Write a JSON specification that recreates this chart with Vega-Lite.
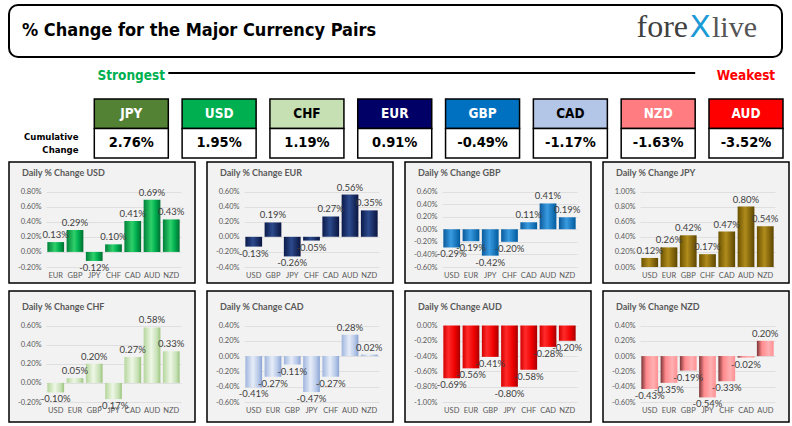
{
  "$schema": "https://vega.github.io/schema/vega-lite/v6.json",
  "background": "white",
  "padding": {"left": 8, "top": 4, "right": 0, "bottom": 0},
  "autosize": {"type": "pad"},
  "spacing": 6,
  "resolve": {"scale": {"x": "independent", "y": "independent", "color": "independent", "fill": "independent", "size": "independent"}},
  "config": {
    "view": {"stroke": null},
    "locale": {"number": {"decimal": ".", "thousands": ",", "grouping": [3], "currency": ["$", ""], "minus": "-"}}
  },
  "datasets": {
    "daily": [
      {"base": "USD", "cur": "EUR", "v": 0.0013}, {"base": "USD", "cur": "GBP", "v": 0.0029}, {"base": "USD", "cur": "JPY", "v": -0.0012}, {"base": "USD", "cur": "CHF", "v": 0.0010}, {"base": "USD", "cur": "CAD", "v": 0.0041}, {"base": "USD", "cur": "AUD", "v": 0.0069}, {"base": "USD", "cur": "NZD", "v": 0.0043},
      {"base": "EUR", "cur": "USD", "v": -0.0013}, {"base": "EUR", "cur": "GBP", "v": 0.0019}, {"base": "EUR", "cur": "JPY", "v": -0.0026}, {"base": "EUR", "cur": "CHF", "v": -0.0005}, {"base": "EUR", "cur": "CAD", "v": 0.0027}, {"base": "EUR", "cur": "AUD", "v": 0.0056}, {"base": "EUR", "cur": "NZD", "v": 0.0035},
      {"base": "GBP", "cur": "USD", "v": -0.0029}, {"base": "GBP", "cur": "EUR", "v": -0.0019}, {"base": "GBP", "cur": "JPY", "v": -0.0042}, {"base": "GBP", "cur": "CHF", "v": -0.0020}, {"base": "GBP", "cur": "CAD", "v": 0.0011}, {"base": "GBP", "cur": "AUD", "v": 0.0041}, {"base": "GBP", "cur": "NZD", "v": 0.0019},
      {"base": "JPY", "cur": "USD", "v": 0.0012}, {"base": "JPY", "cur": "EUR", "v": 0.0026}, {"base": "JPY", "cur": "GBP", "v": 0.0042}, {"base": "JPY", "cur": "CHF", "v": 0.0017}, {"base": "JPY", "cur": "CAD", "v": 0.0047}, {"base": "JPY", "cur": "AUD", "v": 0.0080}, {"base": "JPY", "cur": "NZD", "v": 0.0054},
      {"base": "CHF", "cur": "USD", "v": -0.0010}, {"base": "CHF", "cur": "EUR", "v": 0.0005}, {"base": "CHF", "cur": "GBP", "v": 0.0020}, {"base": "CHF", "cur": "JPY", "v": -0.0017}, {"base": "CHF", "cur": "CAD", "v": 0.0027}, {"base": "CHF", "cur": "AUD", "v": 0.0058}, {"base": "CHF", "cur": "NZD", "v": 0.0033},
      {"base": "CAD", "cur": "USD", "v": -0.0041}, {"base": "CAD", "cur": "EUR", "v": -0.0027}, {"base": "CAD", "cur": "GBP", "v": -0.0011}, {"base": "CAD", "cur": "JPY", "v": -0.0047}, {"base": "CAD", "cur": "CHF", "v": -0.0027}, {"base": "CAD", "cur": "AUD", "v": 0.0028}, {"base": "CAD", "cur": "NZD", "v": 0.0002},
      {"base": "AUD", "cur": "USD", "v": -0.0069}, {"base": "AUD", "cur": "EUR", "v": -0.0056}, {"base": "AUD", "cur": "GBP", "v": -0.0041}, {"base": "AUD", "cur": "JPY", "v": -0.0080}, {"base": "AUD", "cur": "CHF", "v": -0.0058}, {"base": "AUD", "cur": "CAD", "v": -0.0028}, {"base": "AUD", "cur": "NZD", "v": -0.0020},
      {"base": "NZD", "cur": "USD", "v": -0.0043}, {"base": "NZD", "cur": "EUR", "v": -0.0035}, {"base": "NZD", "cur": "GBP", "v": -0.0019}, {"base": "NZD", "cur": "JPY", "v": -0.0054}, {"base": "NZD", "cur": "CHF", "v": -0.0033}, {"base": "NZD", "cur": "CAD", "v": -0.0002}, {"base": "NZD", "cur": "AUD", "v": 0.0020}
    ],
    "cum": [
      {"cur": "JPY", "v": 0.0276}, {"cur": "USD", "v": 0.0195}, {"cur": "CHF", "v": 0.0119}, {"cur": "EUR", "v": 0.0091},
      {"cur": "GBP", "v": -0.0049}, {"cur": "CAD", "v": -0.0117}, {"cur": "NZD", "v": -0.0163}, {"cur": "AUD", "v": -0.0352}
    ],
    "strength": [{"cur": "JPY", "label": "Strongest"}, {"cur": "AUD", "label": "Weakest"}],
    "line": [{"from": "JPY", "to": "NZD"}],
    "logo": [{"part": "fore"}, {"part": "X"}, {"part": "live"}]
  },
  "vconcat": [
    {
      "spacing": 6,
      "resolve": {"scale": {"x": "independent", "y": "independent", "color": "independent", "fill": "independent", "size": "independent"}},
      "vconcat": [
        {
          "width": 773, "height": 52,
          "view": {"stroke": "#000000", "strokeWidth": 2, "cornerRadius": 9, "fill": "#ffffff"},
          "title": {"text": "% Change for the Major Currency Pairs", "anchor": "start", "frame": "group", "offset": -35, "dx": 13, "font": "DejaVu Sans Condensed, sans-serif", "fontSize": 18, "fontWeight": "bold", "color": "#000000"},
          "data": {"name": "logo"},
          "mark": {"type": "text", "baseline": "alphabetic", "dy": 6,
            "align": {"expr": "datum.part === 'fore' ? 'right' : datum.part === 'X' ? 'center' : 'left'"},
            "font": {"expr": "datum.part === 'X' ? 'DejaVu Sans' : 'Liberation Serif'"}},
          "encoding": {
            "x": {"field": "part", "type": "nominal", "sort": null, "scale": {"type": "point", "domain": ["fore", "X", "live"], "range": [679, 703], "padding": 0}, "axis": null},
            "text": {"field": "part"},
            "size": {"field": "part", "type": "nominal", "scale": {"domain": ["fore", "X", "live"], "range": [32, 30, 32]}, "legend": null},
            "color": {"field": "part", "type": "nominal", "scale": {"domain": ["fore", "X", "live"], "range": ["#404040", "#1b9ad6", "#555555"]}, "legend": null}
          }
        },
        {
          "width": 774, "height": 28,
          "view": {"stroke": null},
          "layer": [
            {
              "data": {"name": "line"},
              "mark": {"type": "rule", "color": "#000000", "strokeWidth": 2.2, "yOffset": -5},
              "encoding": {
                "x": {"field": "from", "type": "nominal", "bandPosition": 1, "scale": {"domain": ["JPY", "USD", "CHF", "EUR", "GBP", "CAD", "NZD", "AUD"], "range": [85.3, 774], "paddingInner": 0.1573, "paddingOuter": 0}, "axis": null},
                "x2": {"field": "to", "bandPosition": 1}
              }
            },
            {
              "data": {"name": "strength"},
              "mark": {"type": "text", "font": "DejaVu Sans Condensed, sans-serif", "fontSize": 13.5, "fontWeight": "bold", "baseline": "middle", "dy": -2.5},
              "encoding": {
                "x": {"field": "cur", "type": "nominal", "scale": {"domain": ["JPY", "USD", "CHF", "EUR", "GBP", "CAD", "NZD", "AUD"], "range": [85.3, 774], "paddingInner": 0.1573, "paddingOuter": 0}, "axis": null},
                "text": {"field": "label"},
                "color": {"field": "label", "type": "nominal", "scale": {"domain": ["Strongest", "Weakest"], "range": ["#00b050", "#ff0000"]}, "legend": null}
              }
            }
          ]
        }
      ]
    },
    {
      "spacing": 2,
      "resolve": {"scale": {"x": "independent", "y": "independent", "color": "independent", "fill": "independent"}},
      "vconcat": [
        {
          "width": 774, "height": 59,
          "view": {"stroke": null},
          "data": {"name": "cum"},
          "encoding": {
            "x": {"field": "cur", "type": "nominal", "scale": {"domain": ["JPY", "USD", "CHF", "EUR", "GBP", "CAD", "NZD", "AUD"], "range": [85.3, 774], "paddingInner": 0.1573, "paddingOuter": 0}, "axis": null}
          },
          "layer": [
            {
              "mark": {"type": "rect", "stroke": "#000000", "strokeWidth": 1.5},
              "encoding": {
                "y": {"datum": "h", "type": "nominal", "scale": {"domain": ["h", "v"], "paddingInner": 0, "paddingOuter": 0},
                  "axis": {"title": null, "orient": "left", "offset": -69, "ticks": false, "domain": false, "labelPadding": 0, "labelAlign": "right", "labelBaseline": "middle", "labelOffset": -6, "labelExpr": "datum.value === 'v' ? ['Cumulative', 'Change'] : ''", "labelFont": "DejaVu Sans Condensed, sans-serif", "labelFontSize": 9.5, "labelFontWeight": "bold", "labelColor": "#000000", "labelLineHeight": 13}},
                "fill": {"field": "cur", "type": "nominal", "scale": {"domain": ["JPY", "USD", "CHF", "EUR", "GBP", "CAD", "NZD", "AUD"], "range": ["#548235", "#00b050", "#c6e0b4", "#000066", "#0070c0", "#b4c6e7", "#ff7c80", "#ff0000"]}, "legend": null}
              }
            },
            {
              "mark": {"type": "rect", "stroke": "#000000", "strokeWidth": 1.5, "fill": "#ffffff"},
              "encoding": {"y": {"datum": "v", "type": "nominal"}}
            },
            {
              "mark": {"type": "text", "font": "DejaVu Sans Condensed, sans-serif", "fontSize": 13.5, "fontWeight": "bold", "baseline": "middle"},
              "encoding": {
                "y": {"datum": "h", "type": "nominal"},
                "text": {"field": "cur"},
                "color": {"field": "cur", "type": "nominal", "scale": {"domain": ["JPY", "USD", "CHF", "EUR", "GBP", "CAD", "NZD", "AUD"], "range": ["#ffffff", "#ffffff", "#000000", "#ffffff", "#ffffff", "#000000", "#ffffff", "#ffffff"]}, "legend": null}
              }
            },
            {
              "mark": {"type": "text", "font": "DejaVu Sans Condensed, sans-serif", "fontSize": 14.5, "fontWeight": "bold", "baseline": "middle", "color": "#000000"},
              "encoding": {
                "y": {"datum": "v", "type": "nominal"},
                "text": {"field": "v", "type": "quantitative", "format": ".2%"}
              }
            }
          ]
        },
        {
          "spacing": 6,
          "resolve": {"scale": {"x": "independent", "y": "independent"}},
          "vconcat": [
            {
              "hconcat": [
                {
                  "width": 186, "height": 121,
                  "view": {"stroke": "#000000", "strokeWidth": 1.5, "fill": "#f2f2f2"},
                  "title": {"text": "Daily % Change USD", "anchor": "start", "frame": "group", "offset": -16, "dx": 13, "font": "Lato", "fontSize": 9, "fontWeight": "bold", "color": "#595959"},
                  "data": {"name": "daily"},
                  "transform": [{"filter": "datum.base === 'USD'"}],
                  "encoding": {
                    "x": {"field": "cur", "type": "nominal", "sort": ["USD", "EUR", "GBP", "JPY", "CHF", "CAD", "AUD", "NZD"], "scale": {"range": [37, 172], "paddingInner": 0.13, "paddingOuter": 0.07}, "axis": {"title": null, "offset": -16, "labelPadding": 4, "ticks": false, "domain": false, "labelAngle": 0, "labelFont": "Lato", "labelFontSize": 7.5, "labelColor": "#595959", "labelOverlap": false}},
                    "y": {"field": "v", "type": "quantitative", "scale": {"domain": [-0.002, 0.008], "range": [105, 29.5], "nice": false}, "axis": {"title": null, "offset": -37, "tickCount": 5, "tickSize": -135, "tickColor": "#d9d9d9", "tickWidth": 0.8, "labelPadding": 140, "domain": false, "grid": false, "format": ".2%", "labelFont": "Lato", "labelFontSize": 7.5, "labelColor": "#595959", "labelOverlap": false, "labelFlush": false}}
                  },
                  "layer": [
                    {"mark": {"type": "bar", "color": {"gradient": "linear", "x1": 0, "x2": 1, "y1": 0, "y2": 0, "stops": [{"offset": 0, "color": "#00803a"}, {"offset": 0.45, "color": "#2fd16b"}, {"offset": 0.7, "color": "#00b050"}, {"offset": 1, "color": "#006e30"}]}}},
                    {"mark": {"type": "text", "font": "Lato", "fontSize": 9.5, "color": "#404040", "baseline": {"expr": "datum.v >= 0 ? 'bottom' : 'top'"}, "dy": {"expr": "datum.v >= 0 ? -2 : 2"}}, "encoding": {"text": {"field": "v", "type": "quantitative", "format": ".2%"}}}
                  ]
                },
                {
                  "width": 186, "height": 121,
                  "view": {"stroke": "#000000", "strokeWidth": 1.5, "fill": "#f2f2f2"},
                  "title": {"text": "Daily % Change EUR", "anchor": "start", "frame": "group", "offset": -16, "dx": 13, "font": "Lato", "fontSize": 9, "fontWeight": "bold", "color": "#595959"},
                  "data": {"name": "daily"},
                  "transform": [{"filter": "datum.base === 'EUR'"}],
                  "encoding": {
                    "x": {"field": "cur", "type": "nominal", "sort": ["USD", "EUR", "GBP", "JPY", "CHF", "CAD", "AUD", "NZD"], "scale": {"range": [37, 172], "paddingInner": 0.13, "paddingOuter": 0.07}, "axis": {"title": null, "offset": -16, "labelPadding": 4, "ticks": false, "domain": false, "labelAngle": 0, "labelFont": "Lato", "labelFontSize": 7.5, "labelColor": "#595959", "labelOverlap": false}},
                    "y": {"field": "v", "type": "quantitative", "scale": {"domain": [-0.004, 0.006], "range": [105, 29.5], "nice": false}, "axis": {"title": null, "offset": -37, "tickCount": 5, "tickSize": -135, "tickColor": "#d9d9d9", "tickWidth": 0.8, "labelPadding": 140, "domain": false, "grid": false, "format": ".2%", "labelFont": "Lato", "labelFontSize": 7.5, "labelColor": "#595959", "labelOverlap": false, "labelFlush": false}}
                  },
                  "layer": [
                    {"mark": {"type": "bar", "color": {"gradient": "linear", "x1": 0, "x2": 1, "y1": 0, "y2": 0, "stops": [{"offset": 0, "color": "#0b1a4a"}, {"offset": 0.45, "color": "#2c4a8c"}, {"offset": 1, "color": "#0a1540"}]}}},
                    {"mark": {"type": "text", "font": "Lato", "fontSize": 9.5, "color": "#404040", "baseline": {"expr": "datum.v >= 0 ? 'bottom' : 'top'"}, "dy": {"expr": "datum.v >= 0 ? -2 : 2"}}, "encoding": {"text": {"field": "v", "type": "quantitative", "format": ".2%"}}}
                  ]
                },
                {
                  "width": 186, "height": 121,
                  "view": {"stroke": "#000000", "strokeWidth": 1.5, "fill": "#f2f2f2"},
                  "title": {"text": "Daily % Change GBP", "anchor": "start", "frame": "group", "offset": -16, "dx": 13, "font": "Lato", "fontSize": 9, "fontWeight": "bold", "color": "#595959"},
                  "data": {"name": "daily"},
                  "transform": [{"filter": "datum.base === 'GBP'"}],
                  "encoding": {
                    "x": {"field": "cur", "type": "nominal", "sort": ["USD", "EUR", "GBP", "JPY", "CHF", "CAD", "AUD", "NZD"], "scale": {"range": [37, 172], "paddingInner": 0.13, "paddingOuter": 0.07}, "axis": {"title": null, "offset": -16, "labelPadding": 4, "ticks": false, "domain": false, "labelAngle": 0, "labelFont": "Lato", "labelFontSize": 7.5, "labelColor": "#595959", "labelOverlap": false}},
                    "y": {"field": "v", "type": "quantitative", "scale": {"domain": [-0.006, 0.006], "range": [105, 29.5], "nice": false}, "axis": {"title": null, "offset": -37, "tickCount": 5, "tickSize": -135, "tickColor": "#d9d9d9", "tickWidth": 0.8, "labelPadding": 140, "domain": false, "grid": false, "format": ".2%", "labelFont": "Lato", "labelFontSize": 7.5, "labelColor": "#595959", "labelOverlap": false, "labelFlush": false}}
                  },
                  "layer": [
                    {"mark": {"type": "bar", "color": {"gradient": "linear", "x1": 0, "x2": 1, "y1": 0, "y2": 0, "stops": [{"offset": 0, "color": "#0a5a9c"}, {"offset": 0.45, "color": "#3a9be0"}, {"offset": 1, "color": "#005a9e"}]}}},
                    {"mark": {"type": "text", "font": "Lato", "fontSize": 9.5, "color": "#404040", "baseline": {"expr": "datum.v >= 0 ? 'bottom' : 'top'"}, "dy": {"expr": "datum.v >= 0 ? -2 : 2"}}, "encoding": {"text": {"field": "v", "type": "quantitative", "format": ".2%"}}}
                  ]
                },
                {
                  "width": 186, "height": 121,
                  "view": {"stroke": "#000000", "strokeWidth": 1.5, "fill": "#f2f2f2"},
                  "title": {"text": "Daily % Change JPY", "anchor": "start", "frame": "group", "offset": -16, "dx": 13, "font": "Lato", "fontSize": 9, "fontWeight": "bold", "color": "#595959"},
                  "data": {"name": "daily"},
                  "transform": [{"filter": "datum.base === 'JPY'"}],
                  "encoding": {
                    "x": {"field": "cur", "type": "nominal", "sort": ["USD", "EUR", "GBP", "JPY", "CHF", "CAD", "AUD", "NZD"], "scale": {"range": [37, 172], "paddingInner": 0.13, "paddingOuter": 0.07}, "axis": {"title": null, "offset": -16, "labelPadding": 4, "ticks": false, "domain": false, "labelAngle": 0, "labelFont": "Lato", "labelFontSize": 7.5, "labelColor": "#595959", "labelOverlap": false}},
                    "y": {"field": "v", "type": "quantitative", "scale": {"domain": [0, 0.01], "range": [105, 29.5], "nice": false}, "axis": {"title": null, "offset": -37, "tickCount": 5, "tickSize": -135, "tickColor": "#d9d9d9", "tickWidth": 0.8, "labelPadding": 140, "domain": false, "grid": false, "format": ".2%", "labelFont": "Lato", "labelFontSize": 7.5, "labelColor": "#595959", "labelOverlap": false, "labelFlush": false}}
                  },
                  "layer": [
                    {"mark": {"type": "bar", "color": {"gradient": "linear", "x1": 0, "x2": 1, "y1": 0, "y2": 0, "stops": [{"offset": 0, "color": "#6b5200"}, {"offset": 0.45, "color": "#b08c1c"}, {"offset": 1, "color": "#5c4500"}]}}},
                    {"mark": {"type": "text", "font": "Lato", "fontSize": 9.5, "color": "#404040", "baseline": {"expr": "datum.v >= 0 ? 'bottom' : 'top'"}, "dy": {"expr": "datum.v >= 0 ? -2 : 2"}}, "encoding": {"text": {"field": "v", "type": "quantitative", "format": ".2%"}}}
                  ]
                }
              ],
              "spacing": 10,
              "resolve": {"scale": {"x": "independent", "y": "independent"}}
            },
            {
              "hconcat": [
                {
                  "width": 186, "height": 131,
                  "view": {"stroke": "#000000", "strokeWidth": 1.5, "fill": "#f2f2f2"},
                  "title": {"text": "Daily % Change CHF", "anchor": "start", "frame": "group", "offset": -21, "dx": 13, "font": "Lato", "fontSize": 9, "fontWeight": "bold", "color": "#595959"},
                  "data": {"name": "daily"},
                  "transform": [{"filter": "datum.base === 'CHF'"}],
                  "encoding": {
                    "x": {"field": "cur", "type": "nominal", "sort": ["USD", "EUR", "GBP", "JPY", "CHF", "CAD", "AUD", "NZD"], "scale": {"range": [37, 172], "paddingInner": 0.13, "paddingOuter": 0.07}, "axis": {"title": null, "offset": -20, "labelPadding": 4, "ticks": false, "domain": false, "labelAngle": 0, "labelFont": "Lato", "labelFontSize": 7.5, "labelColor": "#595959", "labelOverlap": false}},
                    "y": {"field": "v", "type": "quantitative", "scale": {"domain": [-0.002, 0.006], "range": [111, 34.5], "nice": false}, "axis": {"title": null, "offset": -37, "tickCount": 5, "tickSize": -135, "tickColor": "#d9d9d9", "tickWidth": 0.8, "labelPadding": 140, "domain": false, "grid": false, "format": ".2%", "labelFont": "Lato", "labelFontSize": 7.5, "labelColor": "#595959", "labelOverlap": false, "labelFlush": false}}
                  },
                  "layer": [
                    {"mark": {"type": "bar", "color": {"gradient": "linear", "x1": 0, "x2": 1, "y1": 0, "y2": 0, "stops": [{"offset": 0, "color": "#b5d69c"}, {"offset": 0.45, "color": "#eef7e6"}, {"offset": 0.8, "color": "#c6e0b4"}, {"offset": 1, "color": "#9cc57f"}]}}},
                    {"mark": {"type": "text", "font": "Lato", "fontSize": 9.5, "color": "#404040", "baseline": {"expr": "datum.v >= 0 ? 'bottom' : 'top'"}, "dy": {"expr": "datum.v >= 0 ? -2 : 2"}}, "encoding": {"text": {"field": "v", "type": "quantitative", "format": ".2%"}}}
                  ]
                },
                {
                  "width": 186, "height": 131,
                  "view": {"stroke": "#000000", "strokeWidth": 1.5, "fill": "#f2f2f2"},
                  "title": {"text": "Daily % Change CAD", "anchor": "start", "frame": "group", "offset": -21, "dx": 13, "font": "Lato", "fontSize": 9, "fontWeight": "bold", "color": "#595959"},
                  "data": {"name": "daily"},
                  "transform": [{"filter": "datum.base === 'CAD'"}],
                  "encoding": {
                    "x": {"field": "cur", "type": "nominal", "sort": ["USD", "EUR", "GBP", "JPY", "CHF", "CAD", "AUD", "NZD"], "scale": {"range": [37, 172], "paddingInner": 0.13, "paddingOuter": 0.07}, "axis": {"title": null, "offset": -20, "labelPadding": 4, "ticks": false, "domain": false, "labelAngle": 0, "labelFont": "Lato", "labelFontSize": 7.5, "labelColor": "#595959", "labelOverlap": false}},
                    "y": {"field": "v", "type": "quantitative", "scale": {"domain": [-0.006, 0.004], "range": [111, 34.5], "nice": false}, "axis": {"title": null, "offset": -37, "tickCount": 5, "tickSize": -135, "tickColor": "#d9d9d9", "tickWidth": 0.8, "labelPadding": 140, "domain": false, "grid": false, "format": ".2%", "labelFont": "Lato", "labelFontSize": 7.5, "labelColor": "#595959", "labelOverlap": false, "labelFlush": false}}
                  },
                  "layer": [
                    {"mark": {"type": "bar", "color": {"gradient": "linear", "x1": 0, "x2": 1, "y1": 0, "y2": 0, "stops": [{"offset": 0, "color": "#9fb5de"}, {"offset": 0.45, "color": "#e6edf8"}, {"offset": 0.8, "color": "#b4c6e7"}, {"offset": 1, "color": "#8aa3d4"}]}}},
                    {"mark": {"type": "text", "font": "Lato", "fontSize": 9.5, "color": "#404040", "baseline": {"expr": "datum.v >= 0 ? 'bottom' : 'top'"}, "dy": {"expr": "datum.v >= 0 ? -2 : 2"}}, "encoding": {"text": {"field": "v", "type": "quantitative", "format": ".2%"}}}
                  ]
                },
                {
                  "width": 186, "height": 131,
                  "view": {"stroke": "#000000", "strokeWidth": 1.5, "fill": "#f2f2f2"},
                  "title": {"text": "Daily % Change AUD", "anchor": "start", "frame": "group", "offset": -21, "dx": 13, "font": "Lato", "fontSize": 9, "fontWeight": "bold", "color": "#595959"},
                  "data": {"name": "daily"},
                  "transform": [{"filter": "datum.base === 'AUD'"}],
                  "encoding": {
                    "x": {"field": "cur", "type": "nominal", "sort": ["USD", "EUR", "GBP", "JPY", "CHF", "CAD", "AUD", "NZD"], "scale": {"range": [37, 172], "paddingInner": 0.13, "paddingOuter": 0.07}, "axis": {"title": null, "offset": -20, "labelPadding": 4, "ticks": false, "domain": false, "labelAngle": 0, "labelFont": "Lato", "labelFontSize": 7.5, "labelColor": "#595959", "labelOverlap": false}},
                    "y": {"field": "v", "type": "quantitative", "scale": {"domain": [-0.01, 0], "range": [111, 34.5], "nice": false}, "axis": {"title": null, "offset": -37, "tickCount": 5, "tickSize": -135, "tickColor": "#d9d9d9", "tickWidth": 0.8, "labelPadding": 140, "domain": false, "grid": false, "format": ".2%", "labelFont": "Lato", "labelFontSize": 7.5, "labelColor": "#595959", "labelOverlap": false, "labelFlush": false}}
                  },
                  "layer": [
                    {"mark": {"type": "bar", "color": {"gradient": "linear", "x1": 0, "x2": 1, "y1": 0, "y2": 0, "stops": [{"offset": 0, "color": "#d40000"}, {"offset": 0.3, "color": "#ff2a2a"}, {"offset": 0.7, "color": "#ee0000"}, {"offset": 1, "color": "#a60000"}]}}},
                    {"mark": {"type": "text", "font": "Lato", "fontSize": 9.5, "color": "#404040", "baseline": {"expr": "datum.v >= 0 ? 'bottom' : 'top'"}, "dy": {"expr": "datum.v >= 0 ? -2 : 2"}}, "encoding": {"text": {"field": "v", "type": "quantitative", "format": ".2%"}}}
                  ]
                },
                {
                  "width": 186, "height": 131,
                  "view": {"stroke": "#000000", "strokeWidth": 1.5, "fill": "#f2f2f2"},
                  "title": {"text": "Daily % Change NZD", "anchor": "start", "frame": "group", "offset": -21, "dx": 13, "font": "Lato", "fontSize": 9, "fontWeight": "bold", "color": "#595959"},
                  "data": {"name": "daily"},
                  "transform": [{"filter": "datum.base === 'NZD'"}],
                  "encoding": {
                    "x": {"field": "cur", "type": "nominal", "sort": ["USD", "EUR", "GBP", "JPY", "CHF", "CAD", "AUD", "NZD"], "scale": {"range": [37, 172], "paddingInner": 0.13, "paddingOuter": 0.07}, "axis": {"title": null, "offset": -20, "labelPadding": 4, "ticks": false, "domain": false, "labelAngle": 0, "labelFont": "Lato", "labelFontSize": 7.5, "labelColor": "#595959", "labelOverlap": false}},
                    "y": {"field": "v", "type": "quantitative", "scale": {"domain": [-0.006, 0.004], "range": [111, 34.5], "nice": false}, "axis": {"title": null, "offset": -37, "tickCount": 5, "tickSize": -135, "tickColor": "#d9d9d9", "tickWidth": 0.8, "labelPadding": 140, "domain": false, "grid": false, "format": ".2%", "labelFont": "Lato", "labelFontSize": 7.5, "labelColor": "#595959", "labelOverlap": false, "labelFlush": false}}
                  },
                  "layer": [
                    {"mark": {"type": "bar", "color": {"gradient": "linear", "x1": 0, "x2": 1, "y1": 0, "y2": 0, "stops": [{"offset": 0, "color": "#7a3436"}, {"offset": 0.3, "color": "#ff8a8d"}, {"offset": 0.7, "color": "#ffb0b2"}, {"offset": 1, "color": "#ff8f92"}]}}},
                    {"mark": {"type": "text", "font": "Lato", "fontSize": 9.5, "color": "#404040", "baseline": {"expr": "datum.v >= 0 ? 'bottom' : 'top'"}, "dy": {"expr": "datum.v >= 0 ? -2 : 2"}}, "encoding": {"text": {"field": "v", "type": "quantitative", "format": ".2%"}}}
                  ]
                }
              ],
              "spacing": 10,
              "resolve": {"scale": {"x": "independent", "y": "independent"}}
            }
          ]
        }
      ]
    }
  ]
}
